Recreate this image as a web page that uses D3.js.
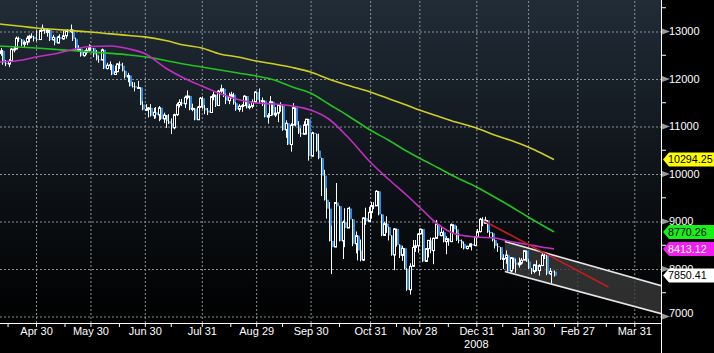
<!DOCTYPE html>
<html><head><meta charset="utf-8">
<script src="https://cdn.jsdelivr.net/npm/d3@7"></script>
<style>html,body{margin:0;padding:0;background:#000;overflow:hidden}svg{display:block}</style>
</head><body>
<svg id="chart" width="714" height="353"></svg>
<script>
// ---------- DATA ----------
const calendarStart = "2008-04-10";
const calendarEnd = "2009-04-20";
const holidays = ["2008-05-26","2008-07-04","2008-09-01","2008-11-27","2008-12-25","2009-01-01","2009-01-19","2009-02-16","2009-04-10"];

const monthLabels = ["Apr 30","May 30","Jun 30","Jul 31","Aug 29","Sep 30","Oct 31","Nov 28","Dec 31","Jan 30","Feb 27","Mar 31"];
const monthDates = ["2008-04-30","2008-05-30","2008-06-30","2008-07-31","2008-08-29","2008-09-30","2008-10-31","2008-11-28","2008-12-31","2009-01-30","2009-02-27","2009-03-31"];
const midMonthDates = ["2008-04-15","2008-05-15","2008-06-16","2008-07-15","2008-08-15","2008-09-15","2008-10-15","2008-11-14","2008-12-15","2009-01-15","2009-02-13","2009-03-16"];
const yearLabel = "2008";
const yearLabelDate = "2008-12-31";

const yTicks = [7000,8000,9000,10000,11000,12000,13000];
const yMinorTicks = [7500,8500,9500,10500,11500,12500,13500];

// Daily candles from 2008-04-10 to 2009-02-13 (trading days)
const opens = [
12527,12582,12325,12302,12362,12619,12620,12849,12825,12720,12763,12849,12892,12872,12831,
12820,13010,13058,12970,13021,12814,12867,12746,12876,12832,12898,12993,12987,13028,12829,12601,12626,12480,12548,12594,12646,
12638,12504,12403,12390,12604,12210,12280,12290,12084,12142,12307,12269,12160,12029,12063,11843,11842,11807,11812,11453,11347,
11350,11382,11216,11289,11232,11384,11147,11229,11101,11055,10963,11239,11447,11497,11467,11603,11632,11349,11371,11131,11398,11584,
11378,11326,11284,11616,11656,11431,11734,11782,11642,11533,11616,11660,11479,11349,11417,11430,11628,11386,11413,11503,11715,
11544,11517,11533,11188,11221,11511,11231,11269,11434,11422,10918,11059,10610,11020,11388,11016,10854,10825,11022,11143,10365,
10851,10831,10483,10325,9956,9447,9258,8579,8451,9388,9311,8578,8979,8852,9265,9034,8519,8691,8379,8176,9065,8991,9181,
9325,9320,9625,9139,8696,8944,8871,8694,8283,8835,8497,8274,8425,7997,7552,8046,8443,8479,8727,
8829,8149,8419,8592,8376,8635,8934,8691,8761,8565,8630,8565,8924,8824,8605,8579,8520,8419,8468,8516,8484,8668,
8776,9035,8953,9015,8770,8742,8599,8474,8449,8200,8212,8281,7949,8228,8123,8078,8116,8175,8375,8149,
8001,7937,8078,7957,8063,8281,8271,7889,7940,7933];
const highs = [
12640,12600,12390,12410,12640,12680,12885,12880,12830,12800,12900,12920,12950,12900,13010,
13030,13136,13060,13050,13030,12920,12870,12900,12930,13000,13010,13040,13136,13030,12860,12700,12630,12590,12640,12720,12700,
12640,12600,12480,12630,12610,12330,12360,12300,12270,12320,12360,12330,12170,12120,12070,11930,11920,11950,11815,11520,11460,
11400,11460,11380,11400,11420,11390,11280,11230,11250,11160,11260,11490,11560,11570,11640,11750,11640,11470,11380,11420,11610,11620,
11440,11380,11630,11720,11660,11760,11870,11800,11680,11700,11720,11700,11500,11460,11460,11650,11630,11470,11560,11730,11720,
11790,11600,11540,11270,11630,11520,11400,11450,11500,11430,11120,11060,11060,11480,11390,11100,10950,11100,11150,11150,10880,
10870,10840,10840,10330,10080,9690,9400,8900,9390,9800,9320,9010,9270,9280,9300,9040,8780,8700,8610,9080,9280,9300,9400,
9400,9650,9630,9140,8980,9100,8880,8700,8850,8840,8510,8480,8430,8010,8110,8600,8600,8740,8840,
8830,8430,8600,8650,8650,9020,8950,8880,8800,8680,8640,8950,8930,8900,8740,8610,8560,8480,8530,8530,8680,8830,
9065,9080,9090,9020,8800,8760,8610,8530,8450,8300,8380,8290,8240,8230,8200,8230,8220,8390,8380,8200,
8010,8090,8170,8090,8320,8350,8290,8010,7950,7960];
const lows = [
12480,12290,12260,12240,12360,12550,12620,12770,12680,12660,12700,12760,12850,12780,12790,
12810,12990,12940,12880,12790,12800,12700,12740,12780,12820,12840,12920,12960,12790,12580,12580,12460,12460,12500,12570,12600,
12450,12380,12330,12380,12200,12190,12180,12070,12080,12140,12200,12150,12000,11920,11830,11810,11730,11800,11440,11330,11320,
11180,11200,11150,11160,11100,11130,11060,10960,11040,10830,10930,11210,11390,11420,11380,11560,11330,11310,11120,11130,11380,11360,
11250,11230,11280,11540,11400,11420,11700,11610,11460,11460,11580,11450,11320,11300,11300,11420,11370,11350,11370,11500,11520,
11480,11420,11180,11050,11220,11220,11190,11080,11300,10900,10750,10600,10460,11020,10990,10830,10770,10820,10820,10270,10360,
10640,10460,10300,9525,9430,9050,8570,7882,8450,9100,8570,8200,8450,8850,8970,8470,8320,8170,8150,8160,8920,8990,9050,
9250,9320,9120,8680,8690,8750,8590,8270,7965,8460,8220,8160,7990,7530,7449,8040,8350,8330,8720,
8140,8140,8230,8320,8090,8630,8650,8680,8550,8300,8480,8560,8740,8580,8530,8430,8400,8400,8450,8380,8470,8660,
8760,8890,8940,8750,8650,8570,8420,8350,8180,7990,8100,7940,7920,7990,7910,8020,8080,8170,8140,7990,
7880,7900,7940,7850,8050,8200,7860,7870,7690,7830];
const closes = [
12582,12325,12302,12362,12619,12620,12849,12825,12720,12763,12849,12892,12872,12831,12820,
13010,13058,12970,13021,12814,12867,12746,12876,12832,12898,12993,12987,13028,12829,12601,12626,12480,12548,12594,12646,12638,
12504,12403,12390,12604,12210,12280,12290,12084,12142,12307,12269,12160,12029,12063,11843,11842,11807,11812,11453,11347,11350,
11382,11216,11289,11232,11384,11147,11229,11101,11055,10963,11239,11447,11497,11467,11603,11632,11349,11371,11131,11398,11584,11378,
11326,11284,11616,11656,11431,11734,11782,11642,11533,11616,11660,11479,11349,11417,11430,11628,11386,11413,11503,11715,11544,
11517,11533,11188,11221,11511,11231,11269,11434,11422,10918,11059,10610,11020,11388,11016,10854,10825,11022,11143,10365,10851,
10831,10483,10325,9956,9447,9258,8579,8451,9388,9311,8578,8979,8852,9265,9034,8519,8691,8379,8176,9065,8991,9181,9325,
9320,9625,9139,8696,8944,8871,8694,8283,8835,8497,8274,8425,7997,7552,8046,8443,8479,8727,8829,
8149,8419,8592,8376,8635,8934,8691,8761,8565,8630,8565,8924,8824,8605,8579,8520,8419,8468,8516,8484,8668,8776,
9035,8953,9015,8770,8742,8599,8474,8449,8200,8212,8281,7949,8228,8123,8078,8116,8175,8375,8149,8001,
7937,8078,7957,8063,8281,8271,7889,7940,7933,7850.41];

// Moving averages
const maDates = ["2008-04-10","2008-04-23","2008-04-30","2008-05-12","2008-05-21","2008-05-30","2008-06-11","2008-06-20","2008-06-30","2008-07-11","2008-07-22","2008-07-31","2008-08-11","2008-08-20","2008-08-29","2008-09-10","2008-09-19","2008-09-30","2008-10-09","2008-10-20","2008-10-31","2008-11-11","2008-11-20","2008-11-28","2008-12-09","2008-12-18","2008-12-31","2009-01-12","2009-01-22","2009-01-30","2009-02-06","2009-02-13"];
const ma200 = [13147,13095,13063,13032,13002,12979,12939,12905,12876,12800,12705,12642,12516,12453,12368,12305,12232,12137,11989,11863,11716,11579,11442,11337,11211,11084,10958,10811,10684,10558,10432,10294.25];
const ma100 = [12684,12659,12642,12611,12583,12558,12528,12495,12457,12379,12305,12242,12179,12116,12053,11968,11821,11695,11463,11232,10916,10705,10474,10326,10126,9926,9716,9505,9284,9084,8926,8770.26];
const ma50  = [12347,12389,12453,12526,12621,12674,12684,12621,12526,12221,12011,11842,11684,11558,11484,11463,11421,11337,11147,10789,10242,9884,9547,9295,8937,8726,8663,8642,8558,8505,8453,8413.12];

const tagValues = [10294.25, 8770.26, 8413.12, 7850.41];
const tagLabels = ["10294.25","8770.26","8413.12","7850.41"];

const trendDates = ["2009-01-06","2009-03-17"];
const trendValues = [9000, 7611];

const channelDates = ["2009-01-16","2009-04-16"];
const channelUpper = [8570, 7629];
const channelLower = [7938, 7039];

// ---------- BUILD ----------
if (!(opens.length===highs.length && highs.length===lows.length && lows.length===closes.length)) {
  throw new Error("OHLC length mismatch " + [opens.length,highs.length,lows.length,closes.length].join(","));
}
const parse = d3.utcParse("%Y-%m-%d"), fmt = d3.utcFormat("%Y-%m-%d");
const hol = new Set(holidays);
const tradingDays = [];
for (let d = parse(calendarStart); d <= parse(calendarEnd); d = d3.utcDay.offset(d, 1)) {
  const wd = d.getUTCDay(), s = fmt(d);
  if (wd !== 0 && wd !== 6 && !hol.has(s)) tradingDays.push(s);
}
const idx = new Map(tradingDays.map((s, i) => [s, i]));
const I = s => { if (!idx.has(s)) throw new Error("not a trading day " + s); return idx.get(s); };
if (tradingDays[closes.length-1] !== "2009-02-13") throw new Error("last candle date " + tradingDays[closes.length-1] + " n=" + closes.length);

const W = 714, H = 353, plotR = 661, plotB = 323;
const x = d3.scaleLinear().domain([0, 256]).range([-0.2, 662.8]);
const y = d3.scaleLinear().domain([7000, 13000]).range([316, 31]);

const svg = d3.select("#chart");
const defs = svg.append("defs");
const grad = defs.append("linearGradient").attr("id", "bg").attr("x1", 0).attr("y1", 0).attr("x2", 0).attr("y2", 1);
grad.append("stop").attr("offset", "0%").attr("stop-color", "#212c37");
grad.append("stop").attr("offset", "45%").attr("stop-color", "#11171d");
grad.append("stop").attr("offset", "100%").attr("stop-color", "#000000");
defs.append("clipPath").attr("id", "clip").append("rect").attr("width", plotR).attr("height", plotB);

svg.append("rect").attr("width", W).attr("height", H).attr("fill", "#000");
svg.append("rect").attr("width", plotR).attr("height", plotB).attr("fill", "url(#bg)");

const font = "'Liberation Sans', Arial, sans-serif";

// grid
const gridColor = "#8d9298";
const gy = svg.append("g").attr("class", "gridy")
  .call(d3.axisRight(y).tickValues(yTicks).tickSize(plotR).tickFormat(""));
gy.select(".domain").remove();
gy.selectAll("line").attr("stroke", gridColor).attr("stroke-dasharray", "2,2")
  .attr("transform", "translate(0,0.5)");

const monthIdx = monthDates.map(I);
const gx = svg.append("g").attr("class", "gridx").attr("transform", `translate(0,${plotB})`)
  .call(d3.axisTop(x).tickValues(monthIdx).tickSize(plotB).tickFormat(""));
gx.select(".domain").remove();
gx.selectAll("line").attr("stroke", gridColor).attr("stroke-dasharray", "2,2");

const plot = svg.append("g").attr("clip-path", "url(#clip)");

// channel
const chI = channelDates.map(I);
const chPoly = [[chI[0], channelUpper[0]], [chI[1], channelUpper[1]], [chI[1], channelLower[1]], [chI[0], channelLower[0]]];
plot.append("path")
  .attr("d", "M" + chPoly.map(p => [x(p[0]), y(p[1])].join(",")).join("L") + "Z")
  .attr("fill", "#3a3a3a").attr("fill-opacity", 0.8);
const lineGen = d3.line().x(d => x(d[0])).y(d => y(d[1]));
plot.append("path").datum([[chI[0], channelUpper[0]], [chI[1], channelUpper[1]]])
  .attr("d", lineGen).attr("stroke", "#e6e6e6").attr("stroke-width", 1.6).attr("fill", "none");
plot.append("path").datum([[chI[0], channelLower[0]], [chI[1], channelLower[1]]])
  .attr("d", lineGen).attr("stroke", "#e6e6e6").attr("stroke-width", 1.6).attr("fill", "none");

// candles
const candles = plot.append("g");
closes.forEach((c, i) => {
  const o = opens[i], h = highs[i], l = lows[i];
  const r = Math.round(x(i));
  const up = c >= o;
  const top = y(Math.max(o, c)), bot = y(Math.min(o, c));
  if (up) {
    candles.append("line").attr("x1", r + 1.5).attr("x2", r + 1.5).attr("y1", y(h)).attr("y2", y(l))
      .attr("stroke", "#ffffff").attr("stroke-width", 1);
    candles.append("rect").attr("x", r + 0.5).attr("y", top).attr("width", 2).attr("height", Math.max(1, bot - top))
      .attr("fill", "#0a0d10").attr("stroke", "#ffffff").attr("stroke-width", 1);
  } else {
    candles.append("rect").attr("x", r).attr("y", top).attr("width", 3).attr("height", Math.max(1, bot - top))
      .attr("fill", "#2f88e6");
    candles.append("line").attr("x1", r + 0.5).attr("x2", r + 0.5).attr("y1", y(h)).attr("y2", y(l))
      .attr("stroke", "#ffffff").attr("stroke-width", 1);
  }
});

// moving averages
const maI = maDates.map(I);
const maLine = d3.line().x(d => x(d[0])).y(d => y(d[1])).curve(d3.curveMonotoneX);
[[ma200, "#cfcf22"], [ma100, "#22c322"], [ma50, "#c22fc2"]].forEach(([vals, col]) => {
  plot.append("path").datum(vals.map((v, k) => [maI[k], v]))
    .attr("d", maLine).attr("fill", "none").attr("stroke", col).attr("stroke-width", 1.6);
});

// red trend line
const trI = trendDates.map(I);
plot.append("path").datum(trI.map((t, k) => [t, trendValues[k]]))
  .attr("d", lineGen).attr("fill", "none").attr("stroke", "#c41c1c").attr("stroke-width", 1.6);

// x axis
svg.append("line").attr("x1", 0).attr("x2", plotR).attr("y1", plotB + 0.5).attr("y2", plotB + 0.5)
  .attr("stroke", "#ffffff").attr("stroke-width", 1);
const xa = svg.append("g").attr("transform", `translate(0,${plotB})`)
  .call(d3.axisBottom(x).tickValues(monthIdx).tickSize(4).tickPadding(0).tickSizeOuter(0)
    .tickFormat((d, i) => monthLabels[i]));
xa.select(".domain").remove();
xa.selectAll("line").attr("stroke", "#ffffff");
xa.selectAll("text").attr("fill", "#ffffff").style("font-family", font).style("font-size", "11px");
const xm = svg.append("g").attr("transform", `translate(0,${plotB})`)
  .call(d3.axisBottom(x).tickValues(midMonthDates.map(I)).tickSize(4).tickFormat("").tickSizeOuter(0));
xm.select(".domain").remove();
xm.selectAll("line").attr("stroke", "#ffffff");
svg.append("text").attr("x", x(I(yearLabelDate))).attr("y", 348).attr("text-anchor", "middle")
  .attr("fill", "#ffffff").style("font-family", font).style("font-size", "11px").text(yearLabel);

// right axis
svg.append("line").attr("x1", plotR + 0.5).attr("x2", plotR + 0.5).attr("y1", 0).attr("y2", H)
  .attr("stroke", "#ffffff").attr("stroke-width", 1);
const ym = svg.append("g").attr("transform", `translate(${plotR},0)`)
  .call(d3.axisRight(y).tickValues(yMinorTicks).tickSize(5).tickFormat("").tickSizeOuter(0));
ym.select(".domain").remove();
ym.selectAll("line").attr("stroke", "#ffffff");
const ya = svg.append("g").attr("transform", `translate(${plotR},0)`)
  .call(d3.axisRight(y).tickValues(yTicks).tickSize(0).tickPadding(8).tickFormat(d3.format("d")).tickSizeOuter(0));
ya.select(".domain").remove();
ya.selectAll("text").attr("fill", "#ffffff").style("font-family", font).style("font-size", "11px");
ya.selectAll(".tick").filter(d => d === 7000).select("text").attr("dy", "0.05em");
ya.selectAll(".tick").append("path").attr("d", "M1,-3L9,0L1,3Z").attr("fill", "#9a9a9a");

// value tags
const tagFill = ["#ffff00", "#19f019", "#f01ef0", "#ffffff"];
const tagText = ["#000000", "#000000", "#ffffff", "#000000"];
const tags = svg.append("g");
tagValues.forEach((v, k) => {
  const yc = y(v);
  tags.append("path")
    .attr("d", `M${plotR + 2},${yc}L${plotR + 8},${yc - 7}L${W},${yc - 7}L${W},${yc + 7}L${plotR + 8},${yc + 7}Z`)
    .attr("fill", tagFill[k]);
  tags.append("text").attr("x", plotR + 7).attr("y", yc).attr("dy", "0.36em")
    .attr("fill", tagText[k]).style("font-family", font).style("font-size", "10.7px").text(tagLabels[k]);
});
</script>
</body></html>
